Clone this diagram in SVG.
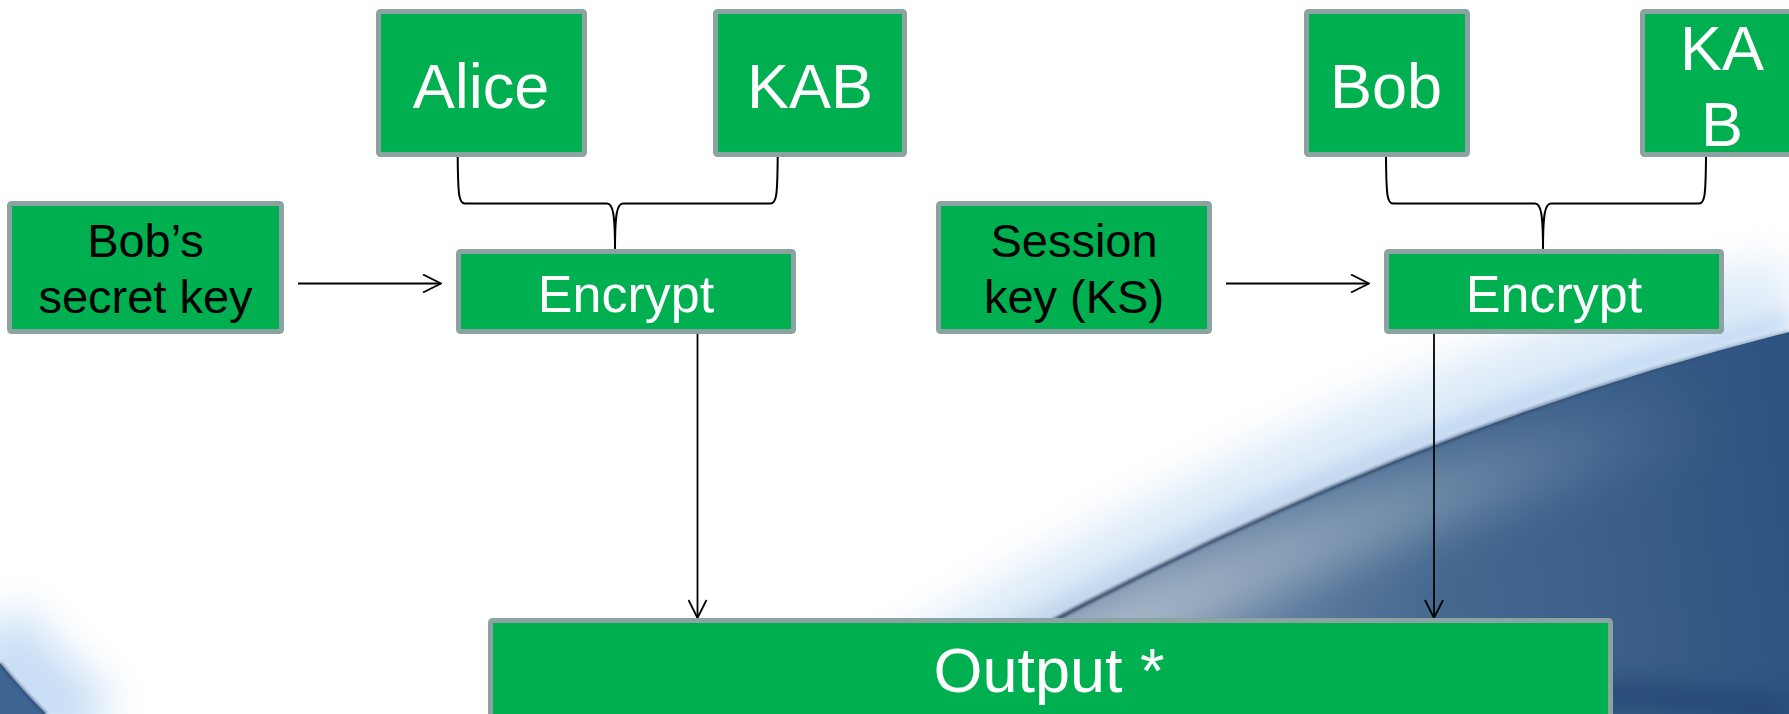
<svg xmlns="http://www.w3.org/2000/svg" width="1789" height="714" viewBox="0 0 1789 714">
  <style>
    .box { fill: #00B050; stroke: #8CA3A4; stroke-width: 5; }
    .lbl { font-family: "Liberation Sans", Arial, sans-serif; text-anchor: middle; }
    .w { fill: #FFFFFF; }
    .k { fill: #000000; }
    .big { font-size: 63px; }
    .mid { font-size: 52px; }
    .sm { font-size: 47px; }
    .link { fill: none; stroke: #000000; stroke-width: 2; }
    .flow { fill: none; stroke: #000000; stroke-width: 1.8; marker-end: url(#open); }
  </style>
  <defs>
    <marker id="open" viewBox="0 0 20 20" markerWidth="20" markerHeight="20" markerUnits="userSpaceOnUse" refX="19" refY="10" orient="auto">
      <path d="M1,1 L19,10 L1,19" fill="none" stroke="#000000" stroke-width="1.8"/>
    </marker>
    <filter id="soft" filterUnits="userSpaceOnUse" x="-100" y="-100" width="1989" height="914">
      <feGaussianBlur stdDeviation="10"/>
    </filter>
    <filter id="softer" filterUnits="userSpaceOnUse" x="-100" y="-100" width="1989" height="914">
      <feGaussianBlur stdDeviation="22"/>
    </filter>
    <filter id="edge" filterUnits="userSpaceOnUse" x="-100" y="-100" width="1989" height="914">
      <feGaussianBlur stdDeviation="1.4"/>
    </filter>
    <linearGradient id="sea" gradientUnits="userSpaceOnUse" x1="1150" y1="640" x2="1789" y2="560">
      <stop offset="0" stop-color="#6f8aa8"/>
      <stop offset="0.45" stop-color="#46698f"/>
      <stop offset="1" stop-color="#2f5482"/>
    </linearGradient>
    <linearGradient id="sheen" gradientUnits="userSpaceOnUse" x1="1000" y1="700" x2="1700" y2="400">
      <stop offset="0" stop-color="#c3ccd6" stop-opacity="0.9"/>
      <stop offset="0.6" stop-color="#9fb2c6" stop-opacity="0.5"/>
      <stop offset="1" stop-color="#7f97b3" stop-opacity="0"/>
    </linearGradient>
    <linearGradient id="rim" gradientUnits="userSpaceOnUse" x1="885" y1="714" x2="1789" y2="332">
      <stop offset="0" stop-color="#14263f" stop-opacity="0.95"/>
      <stop offset="0.6" stop-color="#1d3658" stop-opacity="0.7"/>
      <stop offset="1" stop-color="#2b4b73" stop-opacity="0.3"/>
    </linearGradient>
  </defs>

  <!-- backdrop -->
  <g id="backdrop">
    <rect x="0" y="0" width="1789" height="714" fill="#FFFFFF"/>
    <!-- glow above the sweep -->
    <path d="M850,714 Q1320,410 1789,292" fill="none" stroke="#dceaf8" stroke-width="70" filter="url(#softer)"/>
    <path d="M878,714 Q1343,432 1789,322" fill="none" stroke="#b4d1f2" stroke-width="16" filter="url(#soft)"/>
    <!-- sweep body -->
    <path d="M885,714 Q1350,442 1789,332 L1789,714 Z" fill="url(#sea)"/>
    <path d="M960,714 Q1380,480 1789,395" fill="none" stroke="url(#sheen)" stroke-width="70" filter="url(#softer)"/>
    <path d="M1200,730 Q1500,670 1789,710" fill="none" stroke="#1f4070" stroke-width="30" opacity="0.6" filter="url(#soft)"/>
    <!-- sweep rim -->
    <path d="M885,714 Q1350,442 1789,332" fill="none" stroke="url(#rim)" stroke-width="3.5" filter="url(#edge)"/>
    <!-- lower left corner -->
    <path d="M-10,630 Q30,685 90,730" fill="none" stroke="#c6ddf5" stroke-width="80" filter="url(#softer)"/>
    <path d="M0,663 Q22,690 46,714 L0,714 Z" fill="#3e6592"/>
    <path d="M0,663 Q22,690 46,714" fill="none" stroke="#1d3658" stroke-width="2.5" opacity="0.7" filter="url(#edge)"/>
  </g>

  <!-- connectors -->
  <g id="connectors">
    <path class="link" d="M457.7,157 C458,196 459,203.5 465,203.5 L607,203.5 C613,203.5 615,214 615,250"/>
    <path class="link" d="M777.7,157 C777.4,196 776.4,203.5 770.5,203.5 L623,203.5 C617,203.5 615,214 615,250"/>
    <path class="link" d="M1386,157 C1386.3,196 1387.3,203.5 1393,203.5 L1535,203.5 C1541,203.5 1543,214 1543,250"/>
    <path class="link" d="M1706,157 C1705.7,196 1704.7,203.5 1699,203.5 L1551,203.5 C1545,203.5 1543,214 1543,250"/>
    <line class="flow" x1="298" y1="283.5" x2="441" y2="283.5"/>
    <line class="flow" x1="1226" y1="283.5" x2="1369" y2="283.5"/>
    <line class="flow" x1="697.5" y1="334" x2="697.5" y2="618"/>
    <line class="flow" x1="1434" y1="334" x2="1434" y2="618"/>
  </g>

  <g id="alice">
    <rect class="box" x="378.5" y="11.5" width="206" height="143" rx="2"/>
    <text class="lbl w big" x="481" y="108">Alice</text>
  </g>
  <g id="kab-left">
    <rect class="box" x="715.5" y="11.5" width="189" height="143" rx="2"/>
    <text class="lbl w big" x="810" y="108">KAB</text>
  </g>
  <g id="bob">
    <rect class="box" x="1306.5" y="11.5" width="161" height="143" rx="2"/>
    <text class="lbl w big" x="1386" y="108">Bob</text>
  </g>
  <g id="kab-right">
    <rect class="box" x="1642.5" y="11.5" width="164" height="143" rx="2"/>
    <text class="lbl w big" x="1722" y="70">KA</text>
    <text class="lbl w big" x="1722" y="146">B</text>
  </g>
  <g id="bob-secret-key">
    <rect class="box" x="9.5" y="203.5" width="272" height="128" rx="2"/>
    <text class="lbl k sm" x="145.5" y="257">Bob’s</text>
    <text class="lbl k sm" x="145.5" y="313">secret key</text>
  </g>
  <g id="encrypt-left">
    <rect class="box" x="458.5" y="251.5" width="335" height="80" rx="2"/>
    <text class="lbl w mid" x="626" y="312">Encrypt</text>
  </g>
  <g id="session-key">
    <rect class="box" x="938.5" y="203.5" width="271" height="128" rx="2"/>
    <text class="lbl k sm" x="1074" y="257">Session</text>
    <text class="lbl k sm" x="1074" y="313">key (KS)</text>
  </g>
  <g id="encrypt-right">
    <rect class="box" x="1386.5" y="251.5" width="335" height="80" rx="2"/>
    <text class="lbl w mid" x="1554" y="312">Encrypt</text>
  </g>
  <g id="output">
    <rect class="box" x="490.5" y="620.5" width="1120" height="97" rx="2"/>
    <text class="lbl w big" x="1049" y="692">Output *</text>
  </g>
</svg>
